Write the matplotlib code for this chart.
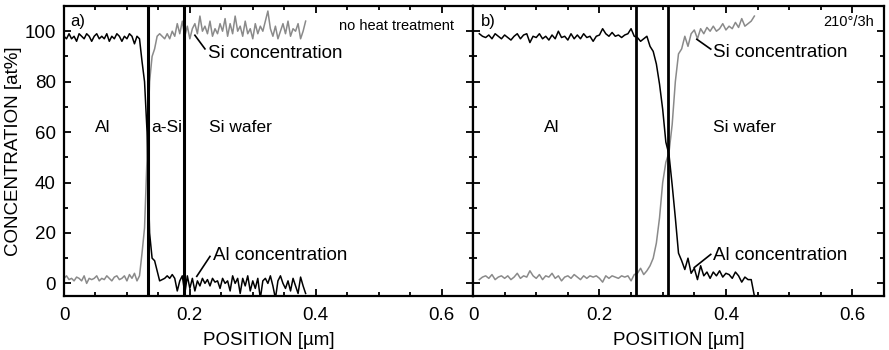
# depth profiles, Al / a-Si on Si wafer
import numpy as np
import matplotlib
matplotlib.use('Agg')
import matplotlib.pyplot as plt
from matplotlib.ticker import MultipleLocator, FuncFormatter

plt.rcParams['font.family'] = ['Liberation Sans', 'DejaVu Sans']

# panel a) no heat treatment, sample step 0.004 um starting at 0
step_a = 0.004
al_a = [98, 97, 99, 97, 98, 96, 99, 98, 97, 99, 98, 96, 98, 99, 97, 98, 97, 99, 96, 98,
        97, 99, 98, 96, 98, 97, 99, 98, 95, 98,
        97, 88, 80, 60, 20, 10, 9, 5, 1, 1.5, 2, 3, 2, 3.5, 2, -3, 1, 3, -4, 3,
        -2, 2, -3, 1, -1, 2, 0, 1.5, -1, 2, 0.5, 1, -2, 2, 0, 1, -3, 3, 0, 2,
        -4, 2, -1, 3, -3, 1, -2, 2, -6, 1, 2, 0, 3, -1, -6, 1, 3, 0, -2, 1,
        -3, 2, -1, -4, 2.5, -1, -4]
si_a = [2, 3, 1.5, 2, 1, 2.5, 2, 1, 3, 0, 2, 1.5, 2, 3, 1, 2, 1.5, 3, 2, 1,
        2.5, 3, 1.5, 2, 3, 1, 3.5, 2, 4, 1,
        3, 12, 22, 50, 80, 90, 93, 98, 99, 98, 97, 99, 97, 100, 98, 103, 99, 104, 98, 102,
        97, 101, 103, 99, 106, 100, 102, 99, 104, 98, 101, 99, 103, 100, 105, 98, 103, 99, 106, 100,
        102, 98, 104, 99, 101, 97, 103, 99, 102, 100, 104, 108, 101, 98, 102, 97, 100, 103, 99, 104,
        98, 101, 100, 103, 97, 100, 104]
layers_a = [0.133, 0.19]

# panel b) 210 deg / 3 h, sample step 0.005 um starting at 0.01
start_b = 0.01
step_b = 0.005
al_b = [99, 98, 97.5, 98.5, 97, 99, 98, 97, 98.5, 97.5, 96.5, 98, 99, 97, 98.5, 99, 95.5, 98, 97.5, 99,
        97, 98, 96.5, 98.5, 97, 100, 97.5, 98, 96.5, 99, 97, 98.5, 97, 99, 97.5, 98, 96, 98, 98.5, 101,
        99, 98, 99.5, 98, 98.5, 97.5, 98.5, 99, 101, 98, 97.5, 96, 97, 98, 94, 92, 87, 79, 69, 56,
        51, 39, 26, 12, 9, 5.5, 10, 4, 6, 1.5, 7, 3, 4.5, 2, 4.5, 3, 5, 2.5, 4, 3.5,
        2, 4.5, 3, 0.5, 2.5, 1.5, 1.5, -5]
si_b = [1.5, 2.5, 3, 2, 3.5, 1.5, 2.5, 3, 2, 3, 1.5, 2.5, 4, 2, 3, 2.5, 5, 3, 2, 3.5,
        1.5, 3, 2.5, 4, 2, 3, 1, 2.5, 3, 2, 3.5, 2.5, 1.5, 3, 2, 3, 2.5, 3, 2, 0.5,
        3, 2, 3, 2.5, 2, 3, 2.5, 3, 1, 3.5, 4, 6, 3.5, 5, 7, 10, 16, 26, 40, 48,
        52, 63, 80, 91, 93, 98, 94, 99, 100.5, 97, 101, 99, 101.5, 100, 102, 100, 101, 103, 100.5, 102,
        101, 103.5, 101.5, 105, 102, 103, 104, 106]
layers_b = [0.257, 0.309]

x_a = np.arange(len(al_a)) * step_a
x_b = start_b + np.arange(len(al_b)) * step_b

fig = plt.figure(figsize=(8.89, 3.5), dpi=100)
ax1 = fig.add_axes([64 / 889, 1 - 296 / 350, 409 / 889, 290 / 350])
ax2 = fig.add_axes([473 / 889, 1 - 296 / 350, 411 / 889, 290 / 350])

fs = 13.5
grey = '#8a8a8a'

for ax in (ax1, ax2):
    ax.set_xlim(0, 0.65)
    ax.set_ylim(-5, 110)
    ax.xaxis.set_major_locator(MultipleLocator(0.2))
    ax.xaxis.set_minor_locator(MultipleLocator(0.05))
    ax.yaxis.set_major_locator(MultipleLocator(20))
    ax.yaxis.set_minor_locator(MultipleLocator(10))
    ax.tick_params(which='both', direction='in', top=True, right=True, width=1.3,
                   labelsize=fs)
    ax.tick_params(axis='x', pad=8)
    ax.tick_params(axis='y', pad=6)
    ax.tick_params(which='major', length=5)
    ax.tick_params(which='minor', length=3)
    for s in ax.spines.values():
        s.set_linewidth(1.6)
    ax.xaxis.set_major_formatter(FuncFormatter(lambda v, p: '0' if abs(v) < 1e-9 else '%g' % v))
    ax.set_xlabel('POSITION [µm]', fontsize=fs, labelpad=6)

ax1.set_ylabel('CONCENTRATION [at%]', fontsize=fs, labelpad=2)
ax2.tick_params(labelleft=False)

# panel a
ax1.plot(x_a, si_a, color=grey, lw=1.1)
ax1.plot(x_a, al_a, color='black', lw=1.1)
for xl in layers_a:
    ax1.axvline(xl, color='black', lw=2.2)
ax1.text(0.01, 104, 'a)', fontsize=12, va='center')
ax1.text(0.62, 102, 'no heat treatment', fontsize=10.5, ha='right', va='center')
ax1.text(0.062, 62, 'Al', fontsize=fs - 1, ha='center', va='center')
ax1.text(0.163, 62, 'a-Si', fontsize=fs - 1, ha='center', va='center')
ax1.text(0.23, 62, 'Si wafer', fontsize=fs - 1, ha='left', va='center')
ax1.plot([0.208, 0.224], [98.4, 93], color='black', lw=1.2)
ax1.text(0.229, 91, 'Si concentration', fontsize=fs, va='center')
ax1.plot([0.211, 0.232], [2.8, 10.7], color='black', lw=1.2)
ax1.text(0.237, 11, 'Al concentration', fontsize=fs, va='center')

# panel b
ax2.plot(x_b, si_b, color=grey, lw=1.1)
ax2.plot(x_b, al_b, color='black', lw=1.1)
for xl in layers_b:
    ax2.axvline(xl, color='black', lw=2.0)
ax2.text(0.013, 104, 'b)', fontsize=12, va='center')
ax2.text(0.634, 103.5, '210°/3h', fontsize=10.5, ha='right', va='center')
ax2.text(0.125, 62, 'Al', fontsize=fs - 1, ha='center', va='center')
ax2.text(0.38, 62, 'Si wafer', fontsize=fs - 1, ha='left', va='center')
ax2.plot([0.354, 0.376], [96.8, 92.9], color='black', lw=1.2)
ax2.text(0.38, 91.5, 'Si concentration', fontsize=fs, va='center')
ax2.plot([0.35, 0.376], [6.3, 11.5], color='black', lw=1.2)
ax2.text(0.38, 11, 'Al concentration', fontsize=fs, va='center')

fig.savefig('out.png', dpi=100)
